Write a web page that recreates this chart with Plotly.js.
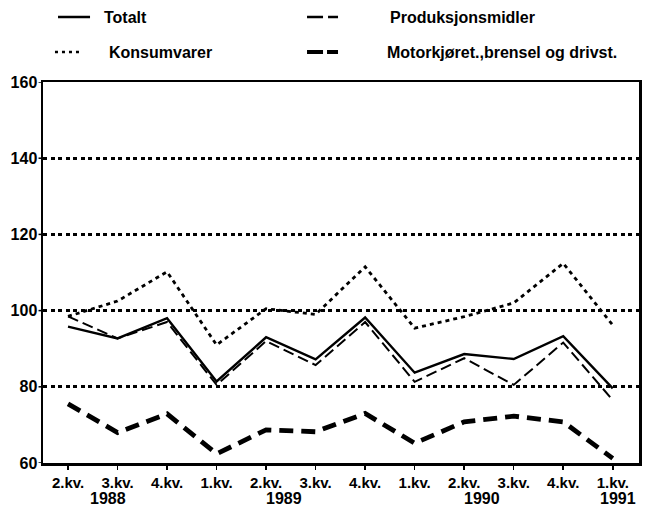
<!DOCTYPE html>
<html>
<head>
<meta charset="utf-8">
<script src="https://cdn.plot.ly/plotly-3.0.1.min.js"></script>
<style>html,body{margin:0;padding:0;background:#fff;}#chart{width:648px;height:507px;}</style>
</head>
<body>
<div id="chart"></div>
<script>
var categories = ["2.kv.","3.kv.","4.kv.","1.kv.","2.kv.","3.kv.","4.kv.","1.kv.","2.kv.","3.kv.","4.kv.","1.kv."];
var years = ["1988","1989","1990","1991"];
var yearPos = [0.8, 4.36, 8.36, 11.1];
var yTicks = [60, 80, 100, 120, 140, 160];
var totalt = [95.8, 92.7, 98.0, 81.4, 93.0, 87.2, 98.2, 83.7, 88.6, 87.3, 93.3, 79.6];
var produksjonsmidler = [98.5, 92.7, 97.0, 80.5, 92.0, 85.7, 97.0, 81.3, 87.5, 80.5, 91.6, 76.5];
var konsumvarer = [98.5, 102.5, 110.2, 91.0, 100.5, 99.0, 111.5, 95.4, 98.4, 102.0, 112.4, 96.2];
var motor = [75.5, 68.0, 72.9, 62.4, 68.7, 68.2, 73.0, 65.2, 70.8, 72.3, 70.8, 61.2];
var seriesNames = ["Totalt","Produksjonsmidler","Konsumvarer","Motorkjøret.,brensel og drivst."];

var idx = categories.map(function(_, i){ return i; });
var FONT = "Liberation Sans, Arial, Helvetica, sans-serif";
var styles = [
  {width: 2.4, dash: "solid"},
  {width: 2, dash: "11px,5px"},
  {width: 2.8, dash: "4px,4px"},
  {width: 4.8, dash: "14px,8px"}
];
var data = [totalt, produksjonsmidler, konsumvarer, motor].map(function(vals, k){
  return {x: idx, y: vals, type: "scatter", mode: "lines", name: seriesNames[k],
    line: {color: "#000", width: styles[k].width, dash: styles[k].dash}, showlegend: false};
});

var annotations = years.map(function(y, i){
  return {text: "<b>" + y + "</b>", x: yearPos[i], xref: "x", y: -0.092, yref: "paper",
    xanchor: "center", yanchor: "middle", showarrow: false, font: {family: FONT, size: 16, color: "#000"}};
});
var shapes = [];
yTicks.forEach(function(v){
  shapes.push({type: "line", xref: "paper", yref: "y", x0: -0.0075, x1: 0, y0: v, y1: v,
    line: {color: "#000", width: 1.5}});
});
var leg = [
  {x0: 0.0252, x1: 0.0789, y: 1.1706, tx: 0.099, w: 2.4, dash: "solid"},
  {x0: 0.443, x1: 0.495, y: 1.1706, tx: 0.579, w: 2.4, dash: "16px,5px"},
  {x0: 0.0201, x1: 0.0621, y: 1.0787, tx: 0.1074, w: 2.4, dash: "3px,4px"},
  {x0: 0.443, x1: 0.495, y: 1.0787, tx: 0.574, w: 4, dash: "16px,4px"}
];
leg.forEach(function(l, k){
  shapes.push({type: "line", xref: "paper", yref: "paper", x0: l.x0, x1: l.x1, y0: l.y, y1: l.y,
    line: {color: "#000", width: l.w, dash: l.dash}});
  annotations.push({text: "<b>" + seriesNames[k] + "</b>", x: l.tx, y: l.y, xref: "paper", yref: "paper",
    xanchor: "left", yanchor: "middle", showarrow: false, font: {family: FONT, size: 16, color: "#000"}});
});

var layout = {
  width: 648, height: 507,
  margin: {l: 43, r: 9, t: 82, b: 44},
  paper_bgcolor: "#fff", plot_bgcolor: "#fff",
  showlegend: false,
  xaxis: {
    range: [-0.505, 11.53], tickmode: "array", tickvals: idx,
    ticktext: categories.map(function(c){ return "<b>" + c + "</b>"; }),
    showgrid: false, zeroline: false, showline: true, linecolor: "#000", linewidth: 2.5, mirror: true,
    ticks: "outside", ticklen: 4, tickwidth: 1.5, tickcolor: "#000",
    tickfont: {family: FONT, size: 15, color: "#000"}
  },
  yaxis: {
    range: [60, 160], tickmode: "array", tickvals: yTicks,
    ticktext: yTicks.map(function(v){ return "<b>" + v + "</b>"; }),
    showgrid: true, gridcolor: "#000", gridwidth: 3, griddash: "4px,3.5px",
    zeroline: false, showline: true, linecolor: "#000", linewidth: 2.5, mirror: true,
    ticks: "",
    tickfont: {family: FONT, size: 16, color: "#000"}
  },
  annotations: annotations,
  shapes: shapes
};
Plotly.newPlot("chart", data, layout, {displayModeBar: false, staticPlot: true});
</script>
</body>
</html>
